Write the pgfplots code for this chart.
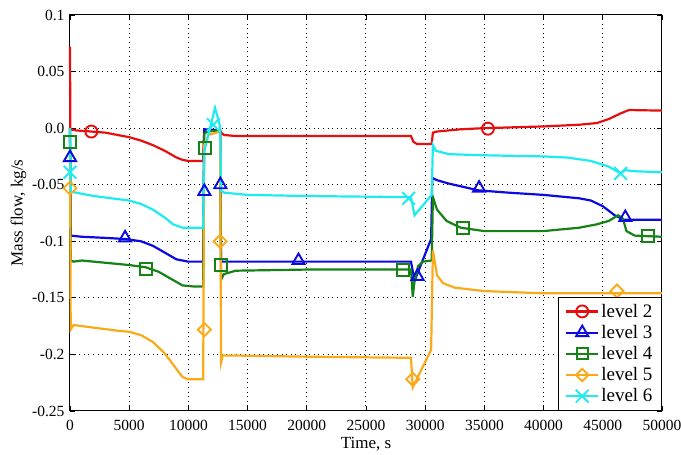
\documentclass[border=0pt]{standalone}
\usepackage{fontspec}
\setmainfont{Liberation Serif}
\usepackage{pgfplots}
\pgfplotsset{compat=1.18}

\definecolor{lvtwo}{RGB}{230,15,15}
\definecolor{lvthree}{RGB}{10,10,225}
\definecolor{lvfour}{RGB}{20,130,20}
\definecolor{lvfive}{RGB}{250,170,25}
\definecolor{lvsix}{RGB}{30,235,240}

\pgfplotsset{
  curve/.style={line width=2.2pt, no marks, forget plot},
  pts/.style={only marks, line width=1.9pt, forget plot},
}

\begin{document}
\begin{tikzpicture}
\begin{axis}[
  scale only axis,
  width=592pt, height=396pt,
  xmin=0, xmax=50000, ymin=-0.25, ymax=0.1,
  clip=false,
  scaled x ticks=false,
  axis line style={black, line width=1pt},
  xtick={0,5000,10000,15000,20000,25000,30000,35000,40000,45000,50000},
  xticklabels={0,5000,10000,15000,20000,25000,30000,35000,40000,45000,50000},
  ytick={-0.25,-0.2,-0.15,-0.1,-0.05,0,0.05,0.1},
  yticklabels={-0.25,-0.2,-0.15,-0.1,-0.05,0.0,0.05,0.1},
  tick align=inside,
  major tick length=5pt,
  tick style={black, line width=0.8pt},
  grid=major,
  major grid style={black, line width=1pt, dash pattern=on 1pt off 3.6pt},
  ticklabel style={font=\fontsize{15.5}{18}\selectfont},
  xticklabel style={yshift=-6pt},
  yticklabel style={xshift=-2pt},
  label style={font=\fontsize{17}{20}\selectfont},
  xlabel={Time, s},
  ylabel={Mass flow, kg/s},
  xlabel style={yshift=1pt},
  ylabel style={yshift=-1pt},
  legend cell align=left,
  legend style={at={(1,0)}, anchor=south east, draw=black, line width=1pt,
    font=\fontsize{19}{22}\selectfont, inner xsep=7pt, inner ysep=5pt,
    row sep=2.5pt},
  legend image code/.code={%
    \draw[mark repeat=2, mark phase=2] plot coordinates {(0pt,0pt) (16pt,0pt) (32pt,0pt)};},
]

% level 2
\addplot[curve, lvtwo] coordinates {
(0,0.072) (30,-0.001) (500,-0.002) (1800,-0.003) (3000,-0.004) (4000,-0.006)
(5000,-0.008) (6000,-0.011) (7000,-0.015) (8000,-0.020) (9000,-0.026)
(9500,-0.028) (10000,-0.029) (11250,-0.029) (11330,-0.002) (12680,-0.002)
(12760,-0.004) (13000,-0.006) (14000,-0.007) (28800,-0.007) (29000,-0.012)
(29300,-0.014) (30550,-0.014) (30650,-0.004) (31000,-0.003) (33000,-0.001)
(35000,0.000) (40000,0.0015) (43000,0.003) (44500,0.0045) (45500,0.008)
(46500,0.013) (47200,0.016) (50000,0.0155)};
\addplot[pts, lvtwo, mark=o, mark size=6pt] coordinates {
(1800,-0.003) (35300,-0.0005)};

% level 3
\addplot[curve, lvthree] coordinates {
(0,0.0) (60,-0.095) (1000,-0.096) (3000,-0.097) (4650,-0.098) (6000,-0.100)
(7000,-0.104) (8000,-0.110) (9000,-0.116) (10000,-0.118) (11250,-0.118)
(11330,-0.001) (12680,-0.002) (12760,-0.118) (19300,-0.118) (28800,-0.118)
(29100,-0.135) (30500,-0.098) (30600,-0.044) (31000,-0.046) (32000,-0.049)
(34500,-0.055) (37000,-0.057) (40000,-0.059) (43000,-0.062) (44000,-0.064)
(45000,-0.069) (46000,-0.077) (46800,-0.081) (50000,-0.081)};
\addplot[pts, lvthree, mark=triangle, mark size=7pt] coordinates {
(0,-0.026) (4650,-0.097) (11350,-0.056) (12700,-0.050) (19300,-0.117)
(29350,-0.131) (34550,-0.053) (46900,-0.079)};

% level 4
\addplot[curve, lvfour] coordinates {
(0,0.0) (60,-0.117) (300,-0.118) (1000,-0.117) (3000,-0.119) (5000,-0.121)
(6400,-0.123) (7500,-0.127) (8500,-0.133) (9500,-0.139) (10500,-0.140)
(11250,-0.140) (11330,-0.005) (11600,-0.003) (12680,-0.002) (12760,-0.134)
(13000,-0.129) (14000,-0.126) (20000,-0.125) (28800,-0.125) (28950,-0.149)
(29100,-0.135) (29400,-0.122) (29800,-0.118) (30550,-0.117) (30650,-0.061)
(31000,-0.072) (31800,-0.082) (33000,-0.088) (35000,-0.091) (40000,-0.091)
(43000,-0.088) (44500,-0.085) (45500,-0.082) (46300,-0.077) (46700,-0.080)
(47000,-0.091) (47700,-0.095) (50000,-0.096)};
\addplot[pts, lvfour, mark=square, mark size=6pt] coordinates {
(0,-0.012) (6420,-0.1245) (11400,-0.0175) (12750,-0.121) (28125,-0.1254)
(33190,-0.088) (48820,-0.0953)};

% level 5
\addplot[curve, lvfive] coordinates {
(0,0.0) (60,-0.178) (300,-0.174) (1000,-0.175) (2500,-0.177) (4000,-0.179)
(5000,-0.180) (6000,-0.183) (7000,-0.189) (8000,-0.199) (9000,-0.213)
(9500,-0.220) (10000,-0.222) (11250,-0.222) (11330,-0.015) (11700,-0.006)
(12680,-0.003) (12760,-0.207) (12900,-0.201) (14000,-0.201) (20000,-0.202)
(28800,-0.203) (28950,-0.229) (30500,-0.196) (30650,-0.108) (31000,-0.130)
(31500,-0.137) (32500,-0.141) (35000,-0.144) (40000,-0.146) (45000,-0.146)
(50000,-0.146)};
\addplot[pts, lvfive, mark=square, mark size=4.6pt, mark options={rotate=45}] coordinates {
(0,-0.053) (11350,-0.178) (12680,-0.100) (28950,-0.222) (46200,-0.144)};

% level 6
\addplot[curve, lvsix] coordinates {
(0,0.0) (60,-0.056) (500,-0.057) (2000,-0.060) (3500,-0.062) (5000,-0.064)
(6000,-0.067) (7000,-0.072) (8000,-0.079) (8700,-0.085) (9500,-0.088)
(11250,-0.088) (11330,-0.021) (12250,0.018) (12600,0.005) (12680,0.0)
(12760,-0.055) (13000,-0.057) (15000,-0.059) (20000,-0.060) (28800,-0.061)
(29100,-0.077) (30550,-0.059) (30650,-0.015) (30900,-0.020) (32000,-0.023)
(35000,-0.024) (40000,-0.025) (42000,-0.026) (44000,-0.029) (45500,-0.034)
(46500,-0.040) (46900,-0.037) (47500,-0.038) (50000,-0.039)};
\addplot[pts, lvsix, mark=x, mark size=9pt] coordinates {
(0,-0.039) (12100,0.003) (28600,-0.062) (46500,-0.040)};

\addlegendimage{lvtwo, line width=2.2pt, mark=o, mark size=6pt, mark options={line width=1.9pt}}
\addlegendentry{level 2}
\addlegendimage{lvthree, line width=2.2pt, mark=triangle, mark size=7pt, mark options={line width=1.9pt}}
\addlegendentry{level 3}
\addlegendimage{lvfour, line width=2.2pt, mark=square, mark size=5.5pt, mark options={line width=1.9pt}}
\addlegendentry{level 4}
\addlegendimage{lvfive, line width=2.2pt, mark=square, mark size=4.4pt, mark options={rotate=45, line width=1.9pt}}
\addlegendentry{level 5}
\addlegendimage{lvsix, line width=2.2pt, mark=x, mark size=9pt, mark options={line width=1.9pt}}
\addlegendentry{level 6}

\coordinate (lowleft) at (rel axis cs:0,0);
\end{axis}
\pgfresetboundingbox
\path (lowleft) ++(-70pt,-44pt) rectangle ++(681pt,455pt);
\end{tikzpicture}
\end{document}
